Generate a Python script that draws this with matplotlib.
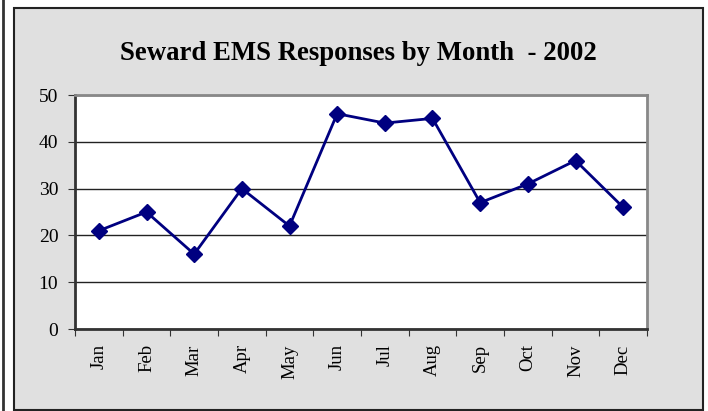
import matplotlib
matplotlib.use("Agg")
import matplotlib.pyplot as plt
from matplotlib.patches import Rectangle
from matplotlib.lines import Line2D

months = ['Jan', 'Feb', 'Mar', 'Apr', 'May', 'Jun', 'Jul', 'Aug', 'Sep', 'Oct', 'Nov', 'Dec']
responses = [21, 25, 16, 30, 22, 46, 44, 45, 27, 31, 36, 26]
yticks = [0, 10, 20, 30, 40, 50]

plt.rcParams['font.family'] = ['Liberation Serif', 'DejaVu Serif']

W, H = 708, 411
fig = plt.figure(figsize=(W / 100, H / 100), dpi=100)
fig.patch.set_facecolor('white')

# grey chart box and page edge line, kept behind the axes
fig.patches.append(Rectangle((14 / W, 1 - 410 / H), (703 - 14) / W, (410 - 8) / H,
                             transform=fig.transFigure, facecolor='#e0e0e0',
                             edgecolor='#222222', linewidth=1.5, zorder=-10))
fig.lines.append(Line2D([3 / W, 3 / W], [0, 1], transform=fig.transFigure,
                        color='#333333', linewidth=2, zorder=-10))
fig.text(30 / W, 1 + 4 / H, 'Chart 7.6', fontsize=14, fontweight='bold',
         ha='left', va='center')

ax = fig.add_axes([75 / W, 1 - 329 / H, (647 - 75) / W, (329 - 95) / H])
ax.set_facecolor('white')

x = list(range(len(months)))
ax.plot(x, responses, color='#000080', linewidth=2, marker='D', markersize=8,
        markerfacecolor='#000080', markeredgecolor='#000080', zorder=3)

ax.set_xlim(-0.5, len(months) - 0.5)
ax.set_ylim(0, 50)
ax.set_yticks(yticks)
ax.set_yticklabels([str(v) for v in yticks], fontsize=14)
ax.yaxis.grid(True, color='#222222', linewidth=1)
ax.set_axisbelow(True)

ax.set_xticks([i - 0.5 for i in range(len(months) + 1)])
ax.set_xticklabels([])
ax.set_xticks(x, minor=True)
ax.set_xticklabels(months, minor=True, rotation=90, fontsize=13.5)
ax.tick_params(axis='x', which='minor', length=0, pad=11)
ax.tick_params(axis='x', which='major', direction='out', length=5, color='#333333')
ax.tick_params(axis='y', direction='out', length=5, color='#333333', pad=7)

for s in ['top', 'right']:
    ax.spines[s].set_color('#888888')
    ax.spines[s].set_linewidth(2)
for s in ['left', 'bottom']:
    ax.spines[s].set_color('#333333')
    ax.spines[s].set_linewidth(2)

fig.text(358.5 / W, 1 - 53 / H, 'Seward EMS Responses by Month  - 2002',
         fontsize=19.3, fontweight='bold', ha='center', va='center')

fig.savefig('out.png', dpi=100)
